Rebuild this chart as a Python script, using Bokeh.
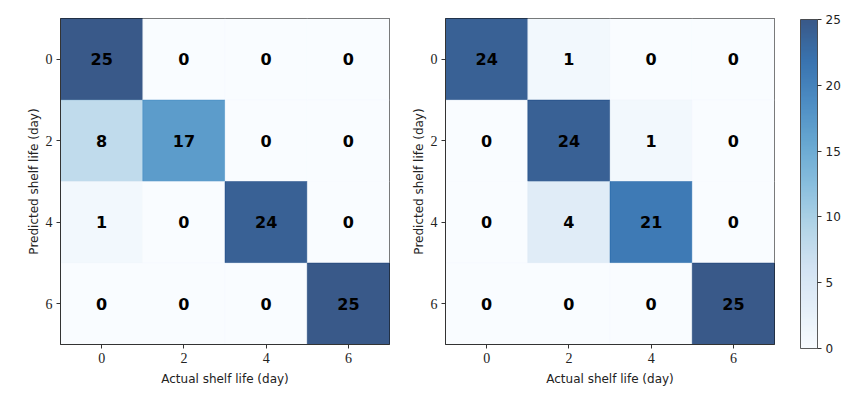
from bokeh.plotting import figure
from bokeh.models import ColumnDataSource, LinearColorMapper, ColorBar, FixedTicker, Range1d
from bokeh.layouts import row
from bokeh.palettes import Blues256
from bokeh.core.properties import value
from bokeh.embed import file_html
from bokeh.resources import INLINE

labels = [0, 2, 4, 6]
cm_left = [[25, 0, 0, 0],
           [8, 17, 0, 0],
           [1, 0, 24, 0],
           [0, 0, 0, 25]]
cm_right = [[24, 1, 0, 0],
            [0, 24, 1, 0],
            [0, 4, 21, 0],
            [0, 0, 0, 25]]
cbar_ticks = [0, 5, 10, 15, 20, 25]
x_title = "Actual shelf life (day)"
y_title = "Predicted shelf life (day)"

mapper = LinearColorMapper(palette=list(Blues256)[::-1], low=0, high=25)
EDGE = "#333333"


def make(cm, width, bl, br):
    xs, ys, vs = [], [], []
    for i, r in enumerate(labels):
        for j, c in enumerate(labels):
            xs.append(c)
            ys.append(r)
            vs.append(cm[i][j])
    src = ColumnDataSource(dict(x=xs, y=ys, v=vs, t=[str(v) for v in vs]))
    p = figure(width=width, height=388, x_range=Range1d(-1, 7), y_range=Range1d(7, -1),
               output_backend="svg", toolbar_location=None,
               min_border_left=bl, min_border_right=br, min_border_top=18, min_border_bottom=41)
    p.rect(x="x", y="y", width=2, height=2, source=src,
           fill_color={"field": "v", "transform": mapper}, fill_alpha=0.8,
           line_color={"field": "v", "transform": mapper}, line_alpha=0.8, line_width=0.5)
    p.text(x="x", y="y", text="t", source=src, text_align="center", text_baseline="middle",
           text_font=value("DejaVu Sans"), text_font_style="bold", text_font_size="16px",
           text_color="black")
    p.grid.visible = False
    p.outline_line_color = EDGE
    p.outline_line_alpha = 1
    for ax, title in ((p.xaxis, x_title), (p.yaxis, y_title)):
        ax.ticker = FixedTicker(ticks=labels, minor_ticks=[])
        ax.axis_label = title
        ax.axis_label_text_font = "DejaVu Sans"
        ax.axis_label_text_font_size = "12px"
        ax.axis_label_text_font_style = "normal"
        ax.axis_label_text_color = "#222222"
        ax.axis_label_standoff = 6
        ax.major_label_text_font = "Liberation Serif"
        ax.major_label_text_font_size = "14px"
        ax.major_label_text_color = "#222222"
        ax.major_label_standoff = 4
        ax.major_tick_in = 0
        ax.major_tick_out = 4
        ax.major_tick_line_color = EDGE
        ax.axis_line_color = EDGE
    p.yaxis.axis_label_standoff = 2
    p.yaxis.major_label_orientation = "horizontal"
    return p


p1 = make(cm_left, 397, 60, 8)
p2 = make(cm_right, 462, 48, 85)

cb = ColorBar(color_mapper=mapper, ticker=FixedTicker(ticks=cbar_ticks, minor_ticks=[]),
              width=17, height=329, scale_alpha=0.8, padding=0, margin=0,
              major_tick_in=0, major_tick_out=4, major_tick_line_color=EDGE,
              bar_line_color=EDGE, label_standoff=4,
              major_label_text_font="DejaVu Sans", major_label_text_font_size="12px",
              major_label_text_color="#222222", location=(26, -4))
p2.add_layout(cb, "right")

layout = row(p1, p2)
open("out.html", "w").write(file_html(layout, INLINE))
